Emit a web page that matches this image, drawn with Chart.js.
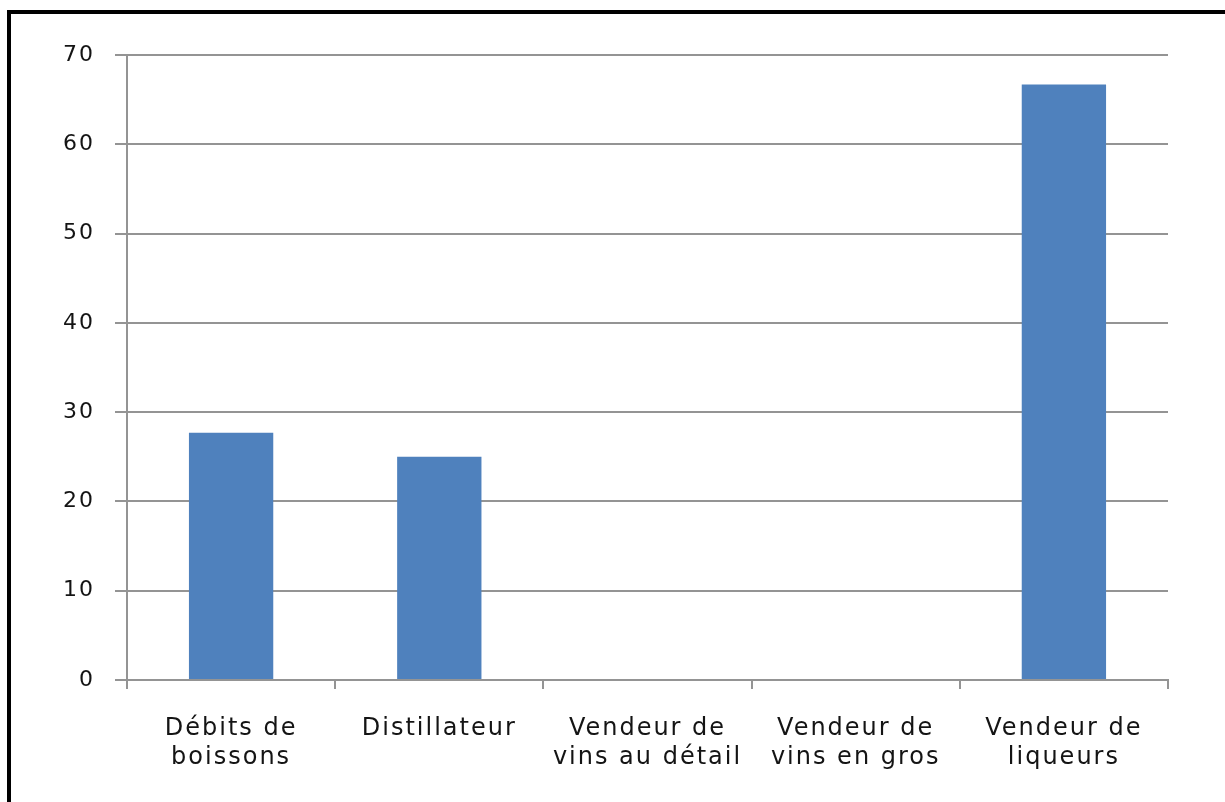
<!DOCTYPE html>
<html>
<head>
<meta charset="utf-8">
<title>Débits de boissons</title>
<script src="https://cdn.jsdelivr.net/npm/chart.js@4/dist/chart.umd.min.js"></script>
<style>
  html, body { margin: 0; padding: 0; background: #fff; }
  #wrap { position: relative; width: 1225px; height: 802px; overflow: hidden; }
  #frame {
    position: absolute; left: 7px; top: 10px; right: 0; bottom: 0;
    border-left: 4px solid #000; border-top: 4px solid #000;
    pointer-events: none;
  }
</style>
</head>
<body>
<div id="wrap">
  <canvas id="bar-chart"></canvas>
  <div id="frame"></div>
</div>
<script>
const categories = [
    ['Débits de', 'boissons'],
    ['Distillateur'],
    ['Vendeur de', 'vins au détail'],
    ['Vendeur de', 'vins en gros'],
    ['Vendeur de', 'liqueurs']
];
const values = [27.7, 25, 0, 0, 66.7];
const yTicks = { min: 0, max: 70, step: 10 };

const gridGrey = '#949494';
const textColor = '#141414';

// wider letters for the axis text
const letterSpacingPlugin = {
    id: 'letterSpacing',
    beforeDraw: function (chart) {
        chart.ctx.letterSpacing = '2px';
    }
};

const ctx = document.getElementById('bar-chart');

let chart = new Chart(ctx, {
    type: 'bar',
    data: {
        labels: categories,
        datasets: [{
            data: values,
            backgroundColor: '#4f81bd',
            borderWidth: 0,
            barPercentage: 0.405,
            categoryPercentage: 1
        }]
    },
    plugins: [letterSpacingPlugin],
    options: {
        responsive: true,
        maintainAspectRatio: false,
        animation: false,
        layout: {
            padding: { top: 55, right: 57, bottom: 0, left: 0 }
        },
        scales: {
            x: {
                grid: {
                    drawOnChartArea: false,
                    drawTicks: true,
                    tickLength: 9,
                    color: gridGrey,
                    lineWidth: 2
                },
                border: { color: gridGrey, width: 2 },
                ticks: {
                    color: textColor,
                    padding: 25,
                    maxRotation: 0,
                    autoSkip: false,
                    font: { family: 'DejaVu Sans', size: 24, lineHeight: 1.22 }
                },
                afterFit: function (scale) { scale.height = 122; }
            },
            y: {
                min: yTicks.min,
                max: yTicks.max,
                ticks: {
                    stepSize: yTicks.step,
                    color: textColor,
                    padding: 20,
                    font: { family: 'DejaVu Sans', size: 22 }
                },
                grid: {
                    color: gridGrey,
                    lineWidth: 2,
                    tickLength: 12
                },
                border: { color: gridGrey, width: 2 },
                afterFit: function (scale) { scale.width = 127; }
            }
        },
        plugins: {
            legend: { display: false },
            tooltip: { enabled: false }
        }
    }
});
</script>
</body>
</html>
